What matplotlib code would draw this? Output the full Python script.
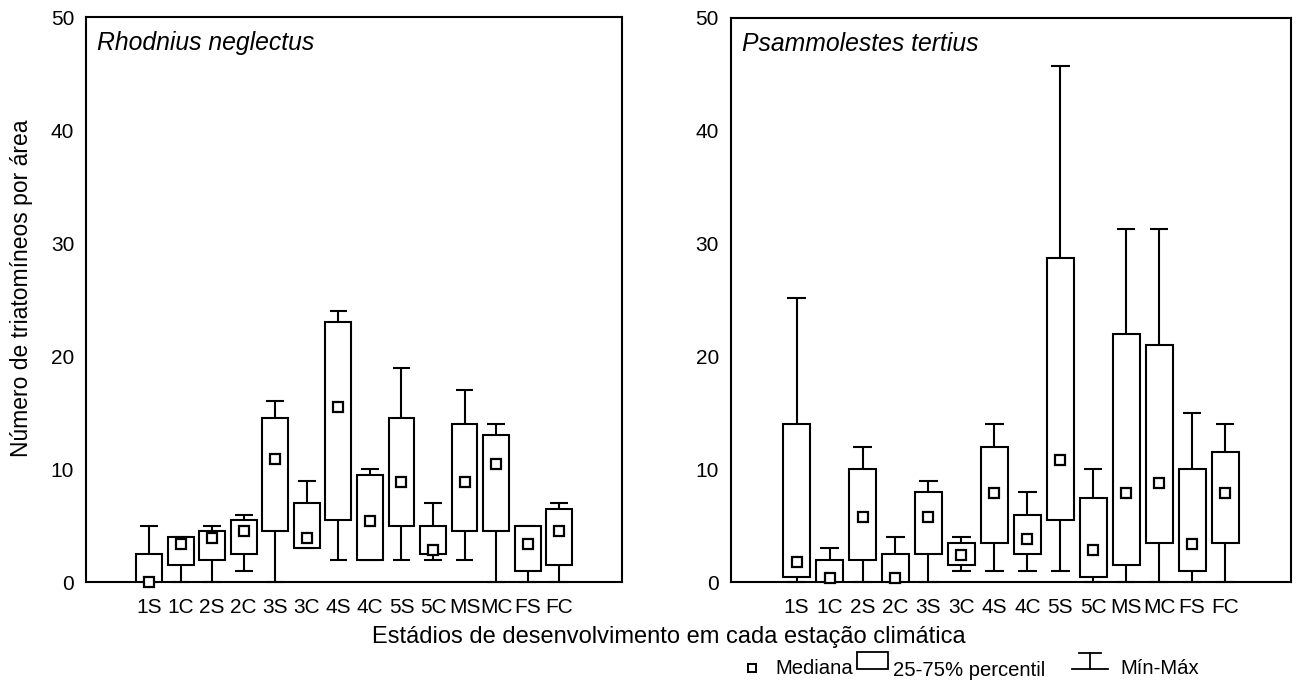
import matplotlib
matplotlib.use("Agg")
import matplotlib.pyplot as plt
from matplotlib.patches import Rectangle
from matplotlib.lines import Line2D

plt.rcParams['font.family'] = ['Liberation Sans', 'DejaVu Sans']

categories = ["1S", "1C", "2S", "2C", "3S", "3C", "4S", "4C", "5S", "5C", "MS", "MC", "FS", "FC"]

# Rhodnius neglectus
rn_min = [0, 0, 0, 1, 0, 3, 2, 2, 2, 2, 2, 0, 0, 0]
rn_q1 = [0, 1.5, 2, 2.5, 4.5, 3, 5.5, 2, 5, 2.5, 4.5, 4.5, 1, 1.5]
rn_med = [0, 3.4, 3.9, 4.5, 10.9, 3.95, 15.5, 5.4, 8.85, 2.9, 8.85, 10.5, 3.4, 4.5]
rn_q3 = [2.5, 4, 4.5, 5.5, 14.5, 7, 23, 9.5, 14.5, 5, 14, 13, 5, 6.5]
rn_max = [5, 4, 5, 6, 16, 9, 24, 10, 19, 7, 17, 14, 5, 7]

# Psammolestes tertius
pt_min = [0, 0, 0, 0, 0, 1, 1, 1, 1, 0, 0, 0, 0, 0]
pt_q1 = [0.5, 0, 2, 0, 2.5, 1.5, 3.5, 2.5, 5.5, 0.5, 1.5, 3.5, 1, 3.5]
pt_med = [1.8, 0.4, 5.8, 0.4, 5.8, 2.4, 7.9, 3.8, 10.8, 2.9, 7.9, 8.8, 3.4, 7.9]
pt_q3 = [14, 2, 10, 2.5, 8, 3.5, 12, 6, 28.7, 7.5, 22, 21, 10, 11.5]
pt_max = [25.2, 3, 12, 4, 9, 4, 14, 8, 45.7, 10, 31.3, 31.3, 15, 14]

titles = ["Rhodnius neglectus", "Psammolestes tertius"]

W, H = 1296, 687
fig = plt.figure(figsize=(W / 100, H / 100), dpi=100)

def px_axes(x0, x1, y_top, y_bot):
    return fig.add_axes([x0 / W, (H - y_bot) / H, (x1 - x0) / W, (y_bot - y_top) / H])

ax1 = px_axes(86, 622.3, 17.3, 582.3)
ax2 = px_axes(730.7, 1291, 17.8, 582.3)

LW = 1.5
BOX_W = 0.82
CAP_W = 0.56
TICK_FS = 15

def draw(ax, mn, q1, md, q3, mx, title):
    xs = list(range(1, len(categories) + 1))
    for x, a, b, m, c, d in zip(xs, mn, q1, md, q3, mx):
        ax.vlines(x, a, b, color='black', lw=LW, zorder=2, clip_on=False)
        ax.vlines(x, c, d, color='black', lw=LW, zorder=2, clip_on=False)
        ax.hlines([a, d], x - CAP_W / 2, x + CAP_W / 2, color='black', lw=LW, zorder=2, clip_on=False)
    ax.bar(xs, [c - b for b, c in zip(q1, q3)], bottom=q1, width=BOX_W,
           facecolor='white', edgecolor='black', linewidth=LW, zorder=3)
    ax.plot(xs, md, linestyle='none', marker='s', markersize=7.2, markerfacecolor='white',
            markeredgecolor='black', markeredgewidth=1.6, zorder=4, clip_on=False)
    ax.set_xlim(-1, 16)
    ax.set_ylim(0, 50)
    ax.set_yticks([0, 10, 20, 30, 40, 50])
    ax.set_xticks(xs)
    ax.set_xticklabels(categories)
    ax.tick_params(axis='both', length=0, labelsize=TICK_FS)
    ax.tick_params(axis='y', pad=8.5)
    ax.tick_params(axis='x', pad=11)
    for s in ax.spines.values():
        s.set_linewidth(1.5)
    ax.text(0.02, 0.975, title, transform=ax.transAxes, ha='left', va='top',
            fontsize=17.8, style='italic')

draw(ax1, rn_min, rn_q1, rn_med, rn_q3, rn_max, titles[0])
draw(ax2, pt_min, pt_q1, pt_med, pt_q3, pt_max, titles[1])

fig.text(22 / W, 1 - 288 / H, "Número de triatomíneos por área", rotation=90,
         ha='center', va='center', fontsize=16.5)

fig.text(669 / W, 1 - 637 / H, "Estádios de desenvolvimento em cada estação climática",
         ha='center', va='center', fontsize=17)

# legend drawn manually
LFS = 14.6
ly = 1 - 668 / H
fig.add_artist(Line2D([752 / W], [ly], marker='s', markersize=5.5, markerfacecolor='white',
                      markeredgecolor='black', markeredgewidth=1.4, linestyle='none',
                      transform=fig.transFigure))
fig.text(775 / W, ly, "Mediana", ha='left', va='center', fontsize=LFS)
fig.add_artist(Rectangle((857 / W, 1 - 669 / H), 31 / W, 17 / H, facecolor='white',
                         edgecolor='black', linewidth=1.3, transform=fig.transFigure))
fig.text(893 / W, ly - 2 / H, "25-75% percentil", ha='left', va='center', fontsize=LFS)
fig.add_artist(Line2D([1079 / W, 1101 / W], [1 - 653 / H, 1 - 653 / H], color='black', lw=1.3,
                      transform=fig.transFigure))
fig.add_artist(Line2D([1090 / W, 1090 / W], [1 - 653 / H, 1 - 669 / H], color='black', lw=1.3,
                      transform=fig.transFigure))
fig.add_artist(Line2D([1072 / W, 1108 / W], [1 - 669 / H, 1 - 669 / H], color='black', lw=1.3,
                      transform=fig.transFigure))
fig.text(1120 / W, ly, "Mín-Máx", ha='left', va='center', fontsize=LFS)

fig.savefig("out.png", dpi=100)
